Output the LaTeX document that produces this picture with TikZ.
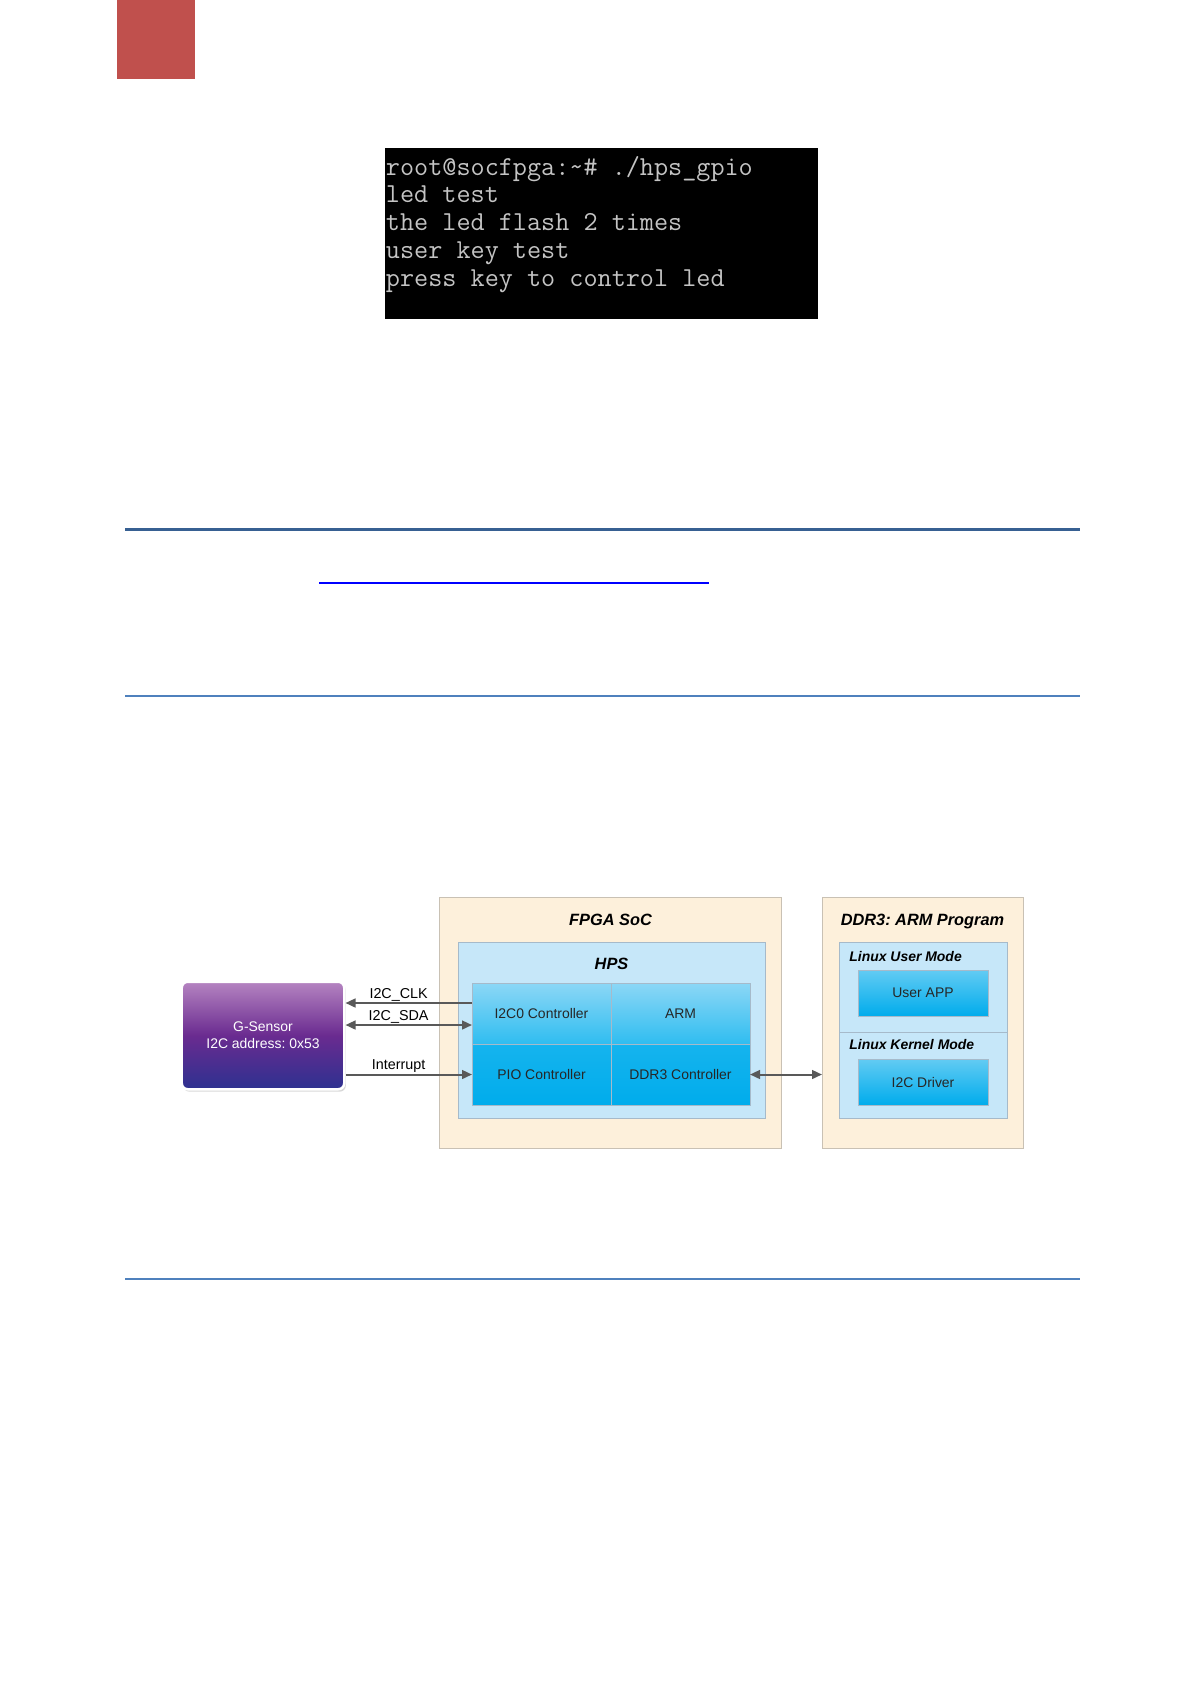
\documentclass[tikz,border=0pt]{standalone}
\usepackage{fontspec}
\setmainfont{Liberation Sans}
\usetikzlibrary{positioning, arrows.meta, shadows}

\definecolor{tabRed}{HTML}{C0504D}
\definecolor{termGray}{HTML}{C4C4C4}
\definecolor{ruleDark}{HTML}{376092}
\definecolor{ruleLight}{HTML}{4F81BD}
\definecolor{socCream}{HTML}{FDF0DB}
\definecolor{socEdge}{HTML}{C9C1B4}
\definecolor{hpsBlue}{HTML}{C6E7F9}
\definecolor{hpsEdge}{HTML}{A6BACA}
\definecolor{cellLight}{HTML}{8CD7F6}
\definecolor{cellMid}{HTML}{2FBDF0}
\definecolor{cellDeep}{HTML}{00ACEC}
\definecolor{appLight}{HTML}{62CBF3}
\definecolor{sensorTop}{HTML}{B584C1}
\definecolor{sensorMid}{HTML}{6A2B90}
\definecolor{sensorLow}{HTML}{2D3190}
\definecolor{wireGray}{HTML}{595959}

\tikzset{
    socbox/.style={rectangle, draw=socEdge, fill=socCream, line width=0.5bp, outer sep=0pt},
    hpsbox/.style={rectangle, draw=hpsEdge, fill=hpsBlue, line width=0.5bp, outer sep=0pt},
    cellupper/.style={rectangle, draw=hpsEdge, line width=0.5bp, top color=cellLight, bottom color=cellMid, minimum width=69.5bp, minimum height=30.5bp, outer sep=0pt, text=black!85, font=\fontsize{7}{8}\selectfont},
    celllower/.style={cellupper, top color=cellMid!45!cellDeep, bottom color=cellDeep},
    appbox/.style={rectangle, draw=hpsEdge, line width=0.5bp, top color=appLight, bottom color=cellDeep, minimum width=65bp, minimum height=23bp, outer sep=0pt, text=black!85, font=\fontsize{7}{8}\selectfont},
    boxtitle/.style={inner sep=0pt, text height=6bp, text depth=1.5bp, font=\fontsize{8.2}{9}\selectfont\bfseries\itshape\frenchspacing},
    modelabel/.style={inner sep=0pt, text height=5bp, text depth=0pt, font=\fontsize{7}{8}\selectfont\bfseries\itshape},
    sensor/.style={rectangle, rounded corners=3bp, draw=white, line width=1.25bp, top color=sensorTop, bottom color=sensorLow, middle color=sensorMid, minimum width=81.25bp, minimum height=53.75bp, text=white, align=center, font=\fontsize{7}{8.5}\selectfont\frenchspacing, drop shadow={opacity=0.3, shadow xshift=0.8bp, shadow yshift=-1.2bp}},
    wire/.style={line width=1bp, draw=wireGray, ->, >={Triangle[length=5bp, width=4.4bp]}},
    dblwire/.style={wire, <->},
    wirelabel/.style={above, inner sep=1bp, text height=5bp, text depth=1bp, font=\fontsize{7.2}{8}\selectfont}
}

\begin{document}
    \begin{tikzpicture}[x=0.5bp, y=-0.5bp]
        \path [use as bounding box, fill=white] (0,0) rectangle (1190,1684);

        \fill [tabRed] (117,0) rectangle (195,79);
        \node (termWin) [rectangle, fill=black, inner sep=0pt, minimum width=216.5bp, minimum height=85.5bp] at (601.5,233.5) {};
        \node (termText) [below right=4bp and 0.5bp of termWin.north west, inner sep=0pt, align=left, text=termGray, font=\ttfamily\fontsize{13.75}{14}\selectfont] {root@socfpga:\textasciitilde\# ./hps\_gpio\\led test\\the led flash 2 times\\user key test\\press key to control led};

        \draw [ruleDark, line width=1.5bp] (125,529) -- (1080,529);
        \draw [blue, line width=0.85bp] (319,583) -- (709,583);
        \draw [ruleLight, line width=1bp] (125,696) -- (1080,696);
        \draw [ruleLight, line width=1bp] (125,1279) -- (1080,1279);

        \node (fpgaBox) [socbox, minimum width=170.5bp, minimum height=125.5bp] at (610.5,1022.5) {};
        \node (ddrBox) [socbox, minimum width=100.5bp, minimum height=125.5bp] at (922.5,1022.5) {};
        \node (fpgaTitle) [boxtitle, below=8.25bp of fpgaBox.north] {FPGA SoC};
        \node (ddrTitle) [boxtitle, below=8.25bp of ddrBox.north] {DDR3: ARM Program};

        \node (hpsBox) [hpsbox, minimum width=153.5bp, minimum height=88bp] at (611.5,1030) {};
        \node (hpsTitle) [boxtitle, below=7.5bp of hpsBox.north] {HPS};
        \node (i2cCtrl) [cellupper] at (541.5,1013.5) {I2C0 Controller};
        \node (armCore) [cellupper, right=0pt of i2cCtrl] {ARM};
        \node (pioCtrl) [celllower, below=0pt of i2cCtrl] {PIO Controller};
        \node (ddrCtrl) [celllower, below=0pt of armCore] {DDR3 Controller};

        \node (userMode) [hpsbox, minimum width=84bp, minimum height=45bp] at (923,987) {};
        \node (kernelMode) [hpsbox, minimum width=84bp, minimum height=43bp, below=0pt of userMode] {};
        \node (userLabel) [modelabel, below right=4.5bp and 5bp of userMode.north west] {Linux User Mode};
        \node (kernelLabel) [modelabel, below right=3.5bp and 5bp of kernelMode.north west] {Linux Kernel Mode};
        \node (userApp) [appbox, below=14bp of userMode.north] {User APP};
        \node (i2cDriver) [appbox, below=13.5bp of kernelMode.north] {I2C Driver};

        \node (gSensor) [sensor] at (263,1035.5) {G-Sensor\\I2C address: 0x53};

        \coordinate (clkPin) at ([yshift=5.25bp]i2cCtrl.west);
        \coordinate (sdaPin) at ([yshift=-5.75bp]i2cCtrl.west);
        \draw [wire] (clkPin) -- node (clkLabel) [wirelabel, pos=0.58] {I2C\_CLK} (clkPin -| gSensor.east);
        \draw [dblwire] (sdaPin -| gSensor.east) -- node (sdaLabel) [wirelabel, pos=0.42] {I2C\_SDA} (sdaPin);
        \draw [wire] (gSensor.east |- pioCtrl.west) -- node (intLabel) [wirelabel, pos=0.42] {Interrupt} (pioCtrl.west);
        \draw [dblwire] (ddrCtrl.east) -- (ddrCtrl.east -| ddrBox.west);
    \end{tikzpicture}
\end{document}
